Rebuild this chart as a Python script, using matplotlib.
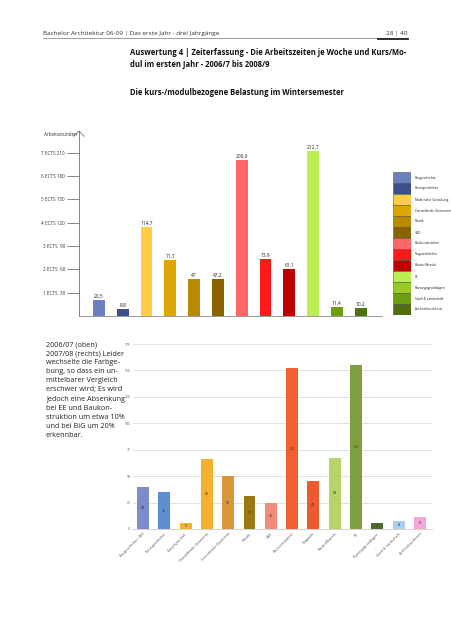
import matplotlib
matplotlib.use("Agg")
import matplotlib.pyplot as plt

plt.rcParams['font.family'] = ['Open Sans', 'DejaVu Sans']

# ---------------- data ----------------
top_values = [20.5, 8.8, 114.7, 71.7, 47, 47.2, 200.9, 73.9, 61.1, 212.7, 11.4, 10.2]
top_labels = ["20,5", "8,8", "114,7", "71,7", "47", "47,2", "200,9", "73,9", "61,1", "212,7", "11,4", "10,2"]
top_colors = ["#6B80BF", "#3D4F8A", "#FFCC44", "#DDA500", "#B88A00", "#8B6200",
              "#FF6666", "#FF1A1A", "#C00000", "#BBEE55", "#6E9E10", "#4E7210"]
top_yticks = [30, 60, 90, 120, 150, 180, 210]
top_yticklabels = ["1 ECTS  30", "2 ECTS  60", "3 ECTS  90", "4 ECTS 120",
                   "5 ECTS 150", "6 ECTS 180", "7 ECTS 210"]

legend_names = ["Baugeschichte", "Kunstgeschichte", "Malerische Gestaltung",
                "Darstellende Geometrie", "Plastik", "CAD", "Baukonstruktion",
                "Tragwerkslehre", "Baustoffkunde", "EE", "Planungsgrundlagen",
                "Stadt & Landschaft", "Architekturtheorie"]
legend_colors = ["#6B80BF", "#3D4F8A", "#FFCC44", "#DDA500", "#B88A00", "#8B6200",
                 "#FF6666", "#FF1A1A", "#C00000", "#BBEE55", "#99CC22", "#6E9E10", "#4E6E10"]

bot_names = ["Baugeschichte / BiG", "Kunstgeschichte", "Bauphysik Einf.",
             "Darstellende Geometrie", "Gestaltende Geometrie", "Plastik", "CAD",
             "Baukonstruktion", "Tragwerk", "Baustoffkunde", "EE",
             "Planungsgrundlagen", "Stadt & Landschaft", "Architekturtheorie"]
bot_values = [40, 35, 5.4, 66, 50, 31, 25, 152, 45, 67.6, 155, 5.4, 7.6, 11.4]
bot_colors = ["#7B8CC8", "#5B8FD0", "#F2B431", "#F5B030", "#D8963A", "#9A7A10",
              "#F28B7E", "#F26030", "#EE5A30", "#B8D468", "#7FA040", "#4E6B2E",
              "#A9CFF0", "#F5A8D8"]
bot_yticks = [0, 25, 50, 75, 100, 125, 150, 175]

# ---------------- figure ----------------
fig = plt.figure(figsize=(4.52, 6.4), dpi=100)
W, H = 452, 640

def fx(x):
    return x / W

def fy(y):
    return 1 - y / H

# header
fig.text(fx(43), fy(35), "Bachelor Architektur 06-09 | Das erste Jahr - drei Jahrgänge",
         fontsize=4.6, color="#333333", va="baseline")
fig.text(fx(408), fy(35), "28 | 40", fontsize=4.6, color="#333333", va="baseline", ha="right")
fig.add_artist(plt.Line2D([fx(43), fx(408)], [fy(37.5), fy(37.5)], color="#777777", lw=0.5))
fig.add_artist(plt.Line2D([fx(378), fx(408)], [fy(38.5), fy(38.5)], color="#222222", lw=1.3))

fig.text(fx(130), fy(55), "Auswertung 4 | Zeiterfassung - Die Arbeitszeiten je Woche und Kurs/Mo-",
         fontsize=5.5, fontweight="bold", color="#111111", va="baseline")
fig.text(fx(130), fy(67), "dul im ersten Jahr - 2006/7 bis 2008/9",
         fontsize=5.5, fontweight="bold", color="#111111", va="baseline")
fig.text(fx(130), fy(95), "Die kurs-/modulbezogene Belastung im Wintersemester",
         fontsize=5.5, fontweight="bold", color="#111111", va="baseline")

# ---------------- top chart ----------------
ax = fig.add_axes([fx(79), fy(316), (382 - 79) / W, (316 - 131) / H])
x = list(range(len(top_values)))
ax.bar(x, top_values, width=0.5, color=top_colors)
for xi, v, lab in zip(x, top_values, top_labels):
    ax.text(xi, v + 1.5, lab, ha="center", va="bottom", fontsize=3.5, color="#222222")
ax.set_xlim(-0.84, 11.9)
ax.set_ylim(0, 238)
ax.set_yticks(top_yticks)
ax.set_yticklabels(top_yticklabels, fontsize=3.3, color="#333333")
ax.tick_params(axis="y", length=9, width=0.5, color="#555555", pad=1)
ax.set_xticks([])
for s in ["top", "right"]:
    ax.spines[s].set_visible(False)
ax.spines["left"].set_color("#555555")
ax.spines["left"].set_linewidth(0.5)
ax.spines["bottom"].set_color("#888888")
ax.spines["bottom"].set_linewidth(0.6)
ax.set_facecolor("none")
# arrow head at top of y axis
ax.plot([-0.84 - 0.22, -0.84, -0.84 + 0.22], [231, 238, 231], color="#555555", lw=0.5,
        clip_on=False)
fig.text(fx(44), fy(135), "Arbeitsstunden", fontsize=3.3, color="#333333", va="center")

# legend
lax = fig.add_axes([fx(393), fy(315), 18 / W, (315 - 172) / H])
n = len(legend_names)
ypos = [n - 1 - i for i in range(n)]
lax.barh(ypos, [1] * n, height=1, left=0, color=legend_colors, edgecolor="#555555",
         linewidth=0.4)
for yp, name in zip(ypos, legend_names):
    lax.text(1.2, yp, name, fontsize=2.3, va="center", ha="left", color="#222222")
lax.set_xlim(0, 1)
lax.set_ylim(-0.5, n - 0.5)
lax.axis("off")

# ---------------- left paragraph ----------------
para = ("2006/07 (oben)\n2007/08 (rechts) Leider\nwechselte die Farbge-\n"
        "bung, so dass ein un-\nmittelbarer Vergleich\nerschwer wird; Es wird\n"
        "jedoch eine Absenkung\nbei EE und Baukon-\nstruktion um etwa 10%\n"
        "und bei BiG um 20%\nerkennbar.")
fig.text(fx(46), fy(341), para, fontsize=5.2, color="#222222", va="top", ha="left",
         linespacing=1.42)

# ---------------- bottom chart ----------------
bx = fig.add_axes([fx(133), fy(529), (432 - 133) / W, (529 - 344) / H])
xb = list(range(len(bot_values)))
bx.bar(xb, bot_values, width=0.56, color=bot_colors, zorder=3)
for xi, v in zip(xb, bot_values):
    bx.text(xi, v / 2, f"{v:.0f}", ha="center", va="center", fontsize=2.6,
            color="#333333", zorder=4)
bx.set_xlim(-0.47, 13.57)
bx.set_ylim(0, 175)
bx.set_yticks(bot_yticks)
bx.set_yticklabels([str(t) for t in bot_yticks], fontsize=2.4, color="#555555")
bx.yaxis.grid(True, color="#DDDDDD", lw=0.6, zorder=0)
bx.tick_params(axis="both", length=0, pad=2)
bx.set_xticks(xb)
bx.set_xticklabels(bot_names, rotation=45, ha="right", rotation_mode="anchor",
                   fontsize=2.6, color="#555555")
for s in ["top", "right", "left"]:
    bx.spines[s].set_visible(False)
bx.spines["bottom"].set_color("#CCCCCC")
bx.spines["bottom"].set_linewidth(0.6)

fig.savefig("out.png", dpi=100)
